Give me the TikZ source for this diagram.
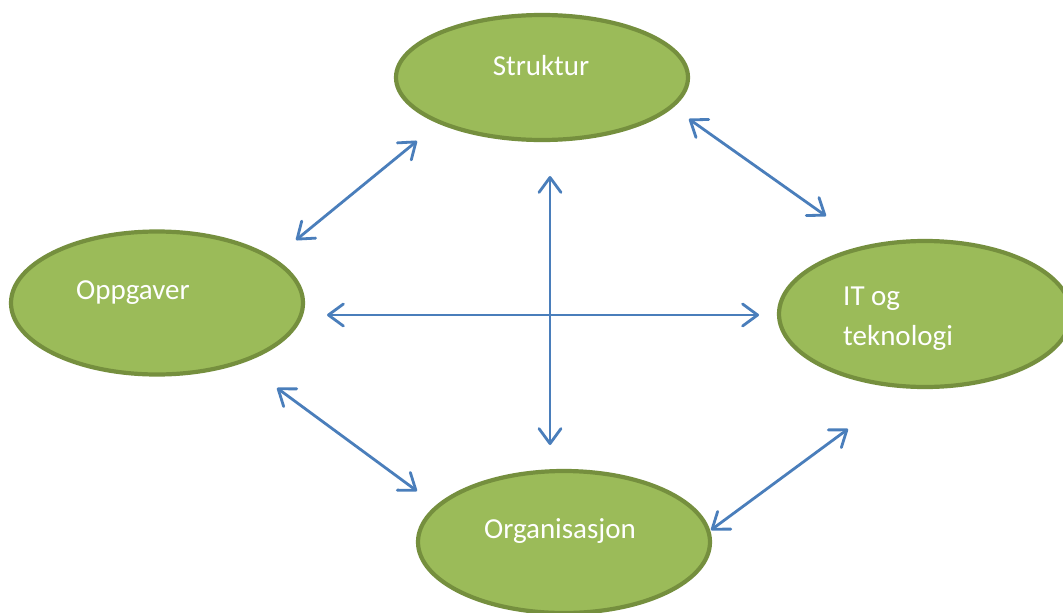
\documentclass[tikz,border=0pt]{standalone}
\usepackage{fontspec}
\setmainfont{Carlito}
\usetikzlibrary{shapes.geometric,arrows.meta}
\definecolor{leaf}{HTML}{9BBB59}
\definecolor{leafedge}{HTML}{758F3E}
\definecolor{linkblue}{HTML}{4A7EBB}
\tikzset{
  topic/.style={ellipse, draw=leafedge, fill=leaf, line width=4.2pt, inner sep=0pt},
  caption/.style={text=white, font=\fontsize{29}{40}\selectfont, inner sep=0pt},
  link/.style={draw=linkblue, line width=2.8pt, line cap=round,
    {Straight Barb[length=15pt,width=22pt,line cap=round,line join=round]}-{Straight Barb[length=15pt,width=22pt,line cap=round,line join=round]}}
}
\begin{document}
\begin{tikzpicture}[x=1pt,y=-1pt]
  \useasboundingbox (0,0) rectangle (1063,613);
  \clip (0,0) rectangle (1063,613);
  \fill[white] (0,0) rectangle (1063,613);

  % the four topics
  \node[topic, minimum width=292pt, minimum height=125pt] (str) at (542,77.5) {};
  \node[topic, minimum width=292pt, minimum height=143pt] (opp) at (157,303) {};
  \node[topic, minimum width=292pt, minimum height=146pt] (it)  at (925,314) {};
  \node[topic, minimum width=292pt, minimum height=142pt] (org) at (564,542) {};

  % their captions
  \node[caption, anchor=base] (strtxt) at (541,75) {Struktur};
  \node[caption, anchor=base west] (opptxt) at (76,299) {Oppgaver};
  \node[caption, anchor=base] (orgtxt) at (560,538) {Organisasjon};
  \node[caption, anchor=base west] (ittxt1) at (843,305) {IT og};
  \node[caption, anchor=base west] (ittxt2) at (843,345) {teknologi};

  % end points of the two-way links
  \coordinate (os1) at (296,240);  \coordinate (os2) at (417,141);
  \coordinate (si1) at (689,119);  \coordinate (si2) at (826,216);
  \coordinate (oo1) at (277,388);  \coordinate (oo2) at (417,491);
  \coordinate (io1) at (848,429);  \coordinate (io2) at (711,530);
  \coordinate (h1)  at (327,315);  \coordinate (h2)  at (759,315);
  \coordinate (v1)  at (550,176);  \coordinate (v2)  at (550,445);

  \draw[link] (os1) -- (os2);
  \draw[link] (si1) -- (si2);
  \draw[link] (oo1) -- (oo2);
  \draw[link] (io1) -- (io2);
  \draw[link] (h1) -- (h2);
  \draw[link] (v1) -- (v2);
\end{tikzpicture}
\end{document}
